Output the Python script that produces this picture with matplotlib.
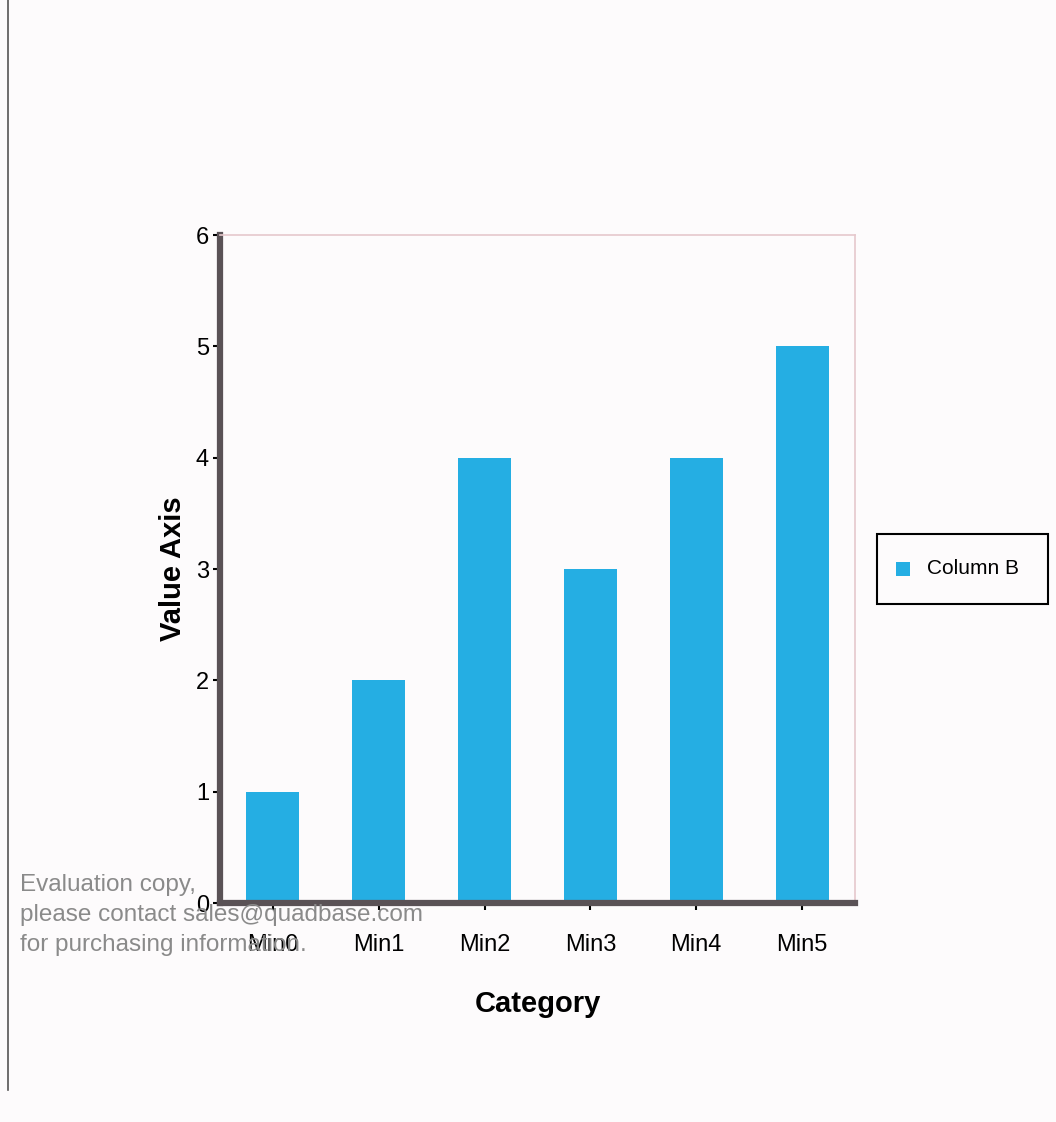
import matplotlib
matplotlib.use("Agg")
import matplotlib.pyplot as plt
from matplotlib.patches import Rectangle
from matplotlib.lines import Line2D

categories = ["Min0", "Min1", "Min2", "Min3", "Min4", "Min5"]
values = [1, 2, 4, 3, 4, 5]
series_name = "Column B"
y_ticks = [0, 1, 2, 3, 4, 5, 6]

W, H = 1056, 1122
bg = "#FDFBFC"
bar_color = "#25AEE3"

fig = plt.figure(figsize=(W / 100, H / 100), dpi=100, facecolor=bg)
ax = fig.add_axes([220 / W, 1 - 903 / H, 635 / W, (903 - 235) / H])
ax.set_facecolor(bg)

x = list(range(len(categories)))
ax.bar(x, values, width=0.5, color=bar_color, zorder=2)
ax.set_xlim(-0.5, len(categories) - 0.5)
ax.set_ylim(0, 6)
ax.set_yticks(y_ticks)
ax.set_xticks(x)
ax.set_xticklabels(categories)
ax.tick_params(axis="both", labelsize=17, colors="#000000", length=5, width=1.5)
ax.tick_params(axis="x", pad=17)
ax.tick_params(axis="y", pad=3)
for lab in ax.get_xticklabels() + ax.get_yticklabels():
    lab.set_family("Liberation Sans")

for s in ["left", "bottom"]:
    ax.spines[s].set_color("#5A5256")
    ax.spines[s].set_linewidth(4.5)
for s in ["top", "right"]:
    ax.spines[s].set_color("#E6C8CC")
    ax.spines[s].set_linewidth(1.2)

ax.set_xlabel("Category", fontsize=21, fontweight="bold", family="Liberation Sans", labelpad=25)
ax.set_ylabel("Value Axis", fontsize=21, fontweight="bold", family="Liberation Sans", labelpad=6)

# Legend box
fig.patches.append(Rectangle((877 / W, 1 - 604 / H), (1048 - 877) / W, (604 - 534) / H,
                             transform=fig.transFigure, facecolor=bg, edgecolor="black",
                             linewidth=1.5, zorder=5))
fig.patches.append(Rectangle((896 / W, 1 - 576 / H), 14 / W, 14 / H,
                             transform=fig.transFigure, facecolor=bar_color, edgecolor="none", zorder=6))
fig.text(927 / W, 1 - 569 / H, series_name, fontsize=15, family="Liberation Sans",
         va="center", ha="left", zorder=7)

# Left vertical line
fig.add_artist(Line2D([8 / W, 8 / W], [1 - 0 / H, 1 - 1090 / H], transform=fig.transFigure,
                      color="#555555", linewidth=1.2))

# Watermark
fig.text(20 / W, 1 - 915 / H, "Evaluation copy,\nplease contact sales@quadbase.com\nfor purchasing information.",
         fontsize=17.5, color="#8A8A8A", family="Liberation Sans", va="center", ha="left",
         linespacing=1.45, zorder=10)

fig.savefig("out.png", dpi=100, facecolor=bg)
